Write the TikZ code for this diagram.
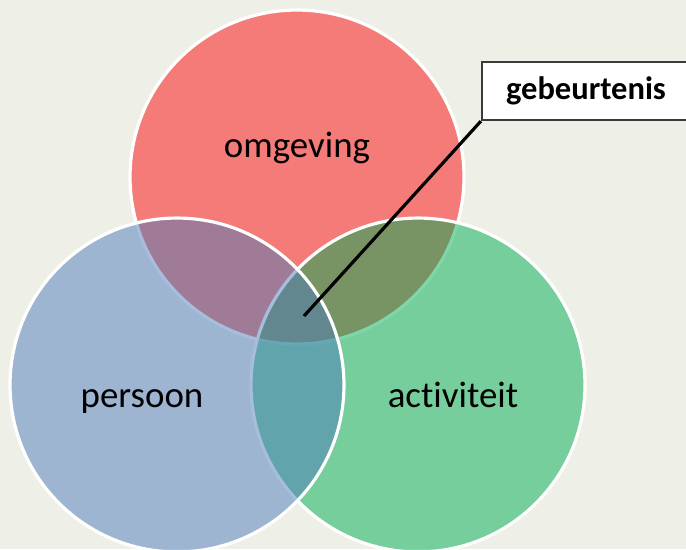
\documentclass[tikz,border=0pt]{standalone}
\usepackage{fontspec}
\setmainfont[Ligatures={NoCommon}]{Carlito}
\usepackage{xcolor}
\usepackage{tikz}
\usetikzlibrary{positioning}
\definecolor{bgpaper}{HTML}{EEF0E8}
\definecolor{envred}{RGB}{250,8,8}
\definecolor{persblue}{RGB}{78,124,186}
\definecolor{actgreen}{RGB}{0,174,82}
\definecolor{boxline}{HTML}{3A3A3A}

\begin{document}
\begin{tikzpicture}[x=0.02cm,y=-0.02cm,
          every node/.style={font=\fontsize{21}{25}\selectfont},
          ring/.style={circle,draw=white,line width=1.8pt,fill opacity=0.5,
                       minimum size=6.68cm,inner sep=0pt},
          word/.style={anchor=base,text=black},
          callout/.style={draw=boxline,line width=1.3pt,fill=white,
                          minimum width=4.16cm,minimum height=1.16cm,
                          font=\fontsize{18.5}{22}\selectfont\bfseries},
      ]
        \useasboundingbox (0,0) rectangle (686,549);
        \clip (0,0) rectangle (686,549);
        \fill[bgpaper] (0,0) rectangle (686,549);

        % three overlapping circles, bottom to top
        \node[ring,fill=envred] (omg) at (297,177) {};
        \node[ring,fill=actgreen] (act) at (418,385) {};
        \node[ring,fill=persblue] (per) at (177,385) {};

        \node[word] (omgtxt) at (297,157) {omgeving};
        \node[word] (pertxt) at (142,407) {persoon};
        \node[word] (acttxt) at (453,407) {activiteit};

        % label for the common part
        \coordinate (mid) at (304,316);
        \node[callout] (geb) at (586,91) {gebeurtenis};
        \draw[black,line width=1.8pt] (geb.south west) -- (mid);
      \end{tikzpicture}
\end{document}
